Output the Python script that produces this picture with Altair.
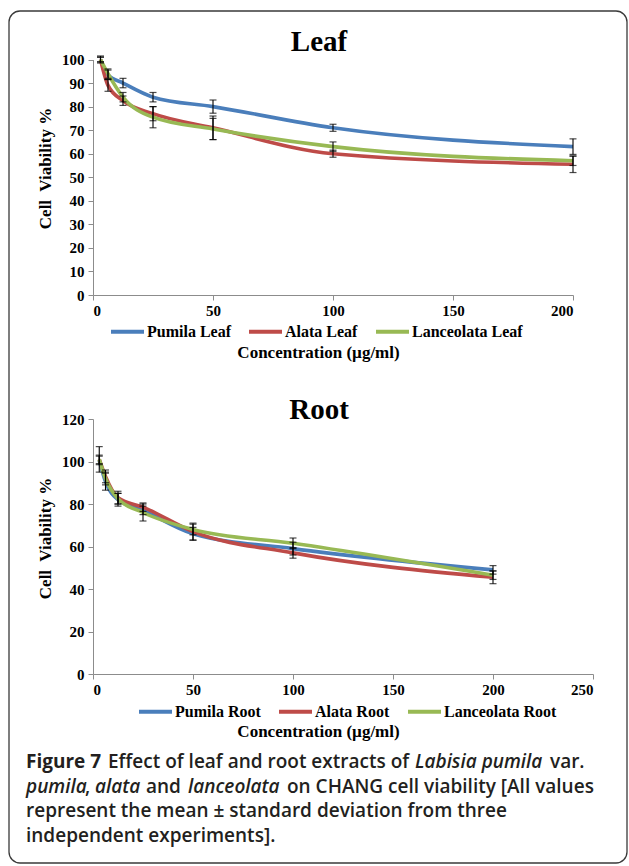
import altair as alt
import pandas as pd

# Extract concentrations (µg/ml)
conc = [3.125, 6.25, 12.5, 25, 50, 100, 200]

# Leaf extracts: mean cell viability (%) and standard deviation
leaf_names = ["Pumila Leaf", "Alata Leaf", "Lanceolata Leaf"]
leaf_pumila = [100, 93.5, 90, 84, 80, 71, 63]
leaf_alata = [100, 89, 82.5, 77, 71, 60, 55.5]
leaf_lanceolata = [100, 94, 84, 75.5, 70.5, 63, 57]
leaf_pumila_sd = [1.5, 2, 2, 2, 2.8, 1.5, 3.3]
leaf_alata_sd = [1, 2.5, 2, 3, 5, 1.5, 3.5]
leaf_lanceolata_sd = [1, 2, 2, 4.5, 4.5, 2, 2]

# Root extracts: mean cell viability (%) and standard deviation
root_names = ["Pumila Root", "Alata Root", "Lanceolata Root"]
root_pumila = [100.5, 90.5, 82, 77, 66, 59, 49]
root_alata = [101, 93, 83, 78.5, 67, 57, 45.5]
root_lanceolata = [101, 92, 82.5, 76, 68, 61.5, 46.5]
root_pumila_sd = [2, 4, 3, 2, 3, 3, 2]
root_alata_sd = [6, 3, 3, 2, 4, 2.5, 3]
root_lanceolata_sd = [2, 3, 2.5, 4, 2.5, 2.5, 2]

series_colors = ["#4A7EBB", "#BE4B48", "#98B954"]

W, H = 629, 866
SERIF = "Liberation Serif"
SANS = "Open Sans"
CAPTION_COLOR = "#231f20"


def long_table(names, means, sds):
    rows = []
    for name, m, s in zip(names, means, sds):
        for c, v, e in zip(conc, m, s):
            rows.append({"conc": c, "viability": v, "lo": v - e, "hi": v + e,
                         "series": name})
    return pd.DataFrame(rows)


def panel(df, names, x_max, x_px, y_max, y_step, y_px, y_title_y, legend_xy):
    x_scale = alt.Scale(domain=[0, x_max], range=x_px, nice=False, zero=True)
    y_scale = alt.Scale(domain=[0, y_max], range=y_px, nice=False)
    axis_y_pos = y_px[0]
    x_axis = alt.Axis(
        orient="bottom", offset=axis_y_pos - H, values=list(range(0, x_max + 1, 50)),
        title="Concentration (µg/ml)", titleX=318, titleY=57,
        titleAlign="center", titleBaseline="middle",
        tickSize=5, labelPadding=3,
    )
    y_axis = alt.Axis(
        orient="left", offset=-x_px[0], values=list(range(0, y_max + 1, y_step)),
        title="Cell\u00a0 Viability %", titleX=45 - x_px[0], titleY=y_title_y,
        titleAlign="center", titleBaseline="middle", titleAngle=-90,
        tickSize=5, labelPadding=4,
    )
    x = alt.X("conc:Q", scale=x_scale, axis=x_axis)
    lines = alt.Chart(df).mark_line(interpolate="monotone", strokeWidth=3.6).encode(
        x=x,
        y=alt.Y("viability:Q", scale=y_scale, axis=y_axis),
        color=alt.Color(
            "series:N",
            scale=alt.Scale(domain=names, range=series_colors),
            legend=alt.Legend(
                orient="none", legendX=legend_xy[0], legendY=legend_xy[1],
                direction="horizontal", title=None, symbolType="stroke",
                symbolSize=1089, symbolStrokeWidth=4, labelFont=SERIF,
                labelFontWeight="bold", labelFontSize=16, labelColor="black",
                labelOffset=1, columnPadding=10, padding=0,
            ),
        ),
        order=alt.Order("conc:Q"),
    )
    bars = alt.Chart(df).mark_rule(color="black", strokeWidth=1.1).encode(
        x=x,
        y=alt.Y("lo:Q", scale=y_scale, axis=y_axis),
        y2="hi:Q",
    )
    cap_lo = alt.Chart(df).mark_tick(orient="horizontal", size=7, thickness=1.2,
                                     color="black").encode(
        x=x, y=alt.Y("lo:Q", scale=y_scale, axis=y_axis))
    cap_hi = alt.Chart(df).mark_tick(orient="horizontal", size=7, thickness=1.2,
                                     color="black").encode(
        x=x, y=alt.Y("hi:Q", scale=y_scale, axis=y_axis))
    return alt.layer(lines, bars, cap_lo, cap_hi)


leaf_df = long_table(leaf_names,
                     [leaf_pumila, leaf_alata, leaf_lanceolata],
                     [leaf_pumila_sd, leaf_alata_sd, leaf_lanceolata_sd])
root_df = long_table(root_names,
                     [root_pumila, root_alata, root_lanceolata],
                     [root_pumila_sd, root_alata_sd, root_lanceolata_sd])

leaf = panel(leaf_df, leaf_names, 200, [93, 573], 100, 10, [295, 59.5], 168, [109, 313])
root = panel(root_df, root_names, 250, [93, 593], 120, 20, [674, 419], 538, [137, 693])

one = alt.Data(values=[{"k": 0}])


def label(text, x, y, size, font=SERIF, weight="bold", style="normal",
          align="center", color="black"):
    return alt.Chart(one).mark_text(
        font=font, fontSize=size, fontWeight=weight, fontStyle=style,
        align=align, baseline="middle", color=color,
    ).encode(text=alt.value(text), x=alt.value(x), y=alt.value(y))


titles = [label("Leaf", 319, 42, 29), label("Root", 319, 410, 29)]

# Figure caption, one segment per change of style
cap_size = 19
cap_lines_y = [762, 787, 811, 836]
caption_parts = [
    ("Figure 7", 26, 0, "bold", "normal"),
    ("Effect of leaf and root extracts of", 108, 0, 600, "normal"),
    ("Labisia pumila", 415, 0, 600, "italic"),
    ("var.", 550, 0, 600, "normal"),
    ("pumila", 26, 1, 600, "italic"),
    (",", 85, 1, 600, "normal"),
    ("alata", 95, 1, 600, "italic"),
    ("and", 146, 1, 600, "normal"),
    ("lanceolata", 188, 1, 600, "italic"),
    ("on CHANG cell viability [All values", 287, 1, 600, "normal"),
    ("represent the mean \u00b1 standard deviation from three", 26, 2, 600, "normal"),
    ("independent experiments].", 26, 3, 600, "normal"),
]
caption = [
    label(t, x, cap_lines_y[row], cap_size, font=SANS, weight=w, style=s,
          align="left", color=CAPTION_COLOR)
    for t, x, row, w, s in caption_parts
]

frame = alt.Chart(one).mark_rect(
    filled=False, stroke="#3a3a3a", strokeWidth=1.3, cornerRadius=11
).encode(x=alt.value(9), x2=alt.value(627), y=alt.value(11), y2=alt.value(863))

chart = alt.layer(frame, leaf, root, *titles, *caption).resolve_scale(
    x="independent", y="independent", color="independent"
).properties(
    width=W, height=H, autosize=alt.AutoSizeParams(type="none"), padding=0,
    background="white",
).configure_view(stroke=None).configure_axis(
    grid=False, labelFont=SERIF, labelFontWeight="bold", labelFontSize=15,
    labelColor="black", titleFont=SERIF, titleFontWeight="bold", titleFontSize=17,
    titleColor="black", domainColor="#8c8c8c", tickColor="#8c8c8c",
    domainWidth=1, tickWidth=1,
)

chart.save("out.html", embed_options={"renderer": "svg", "actions": False})
